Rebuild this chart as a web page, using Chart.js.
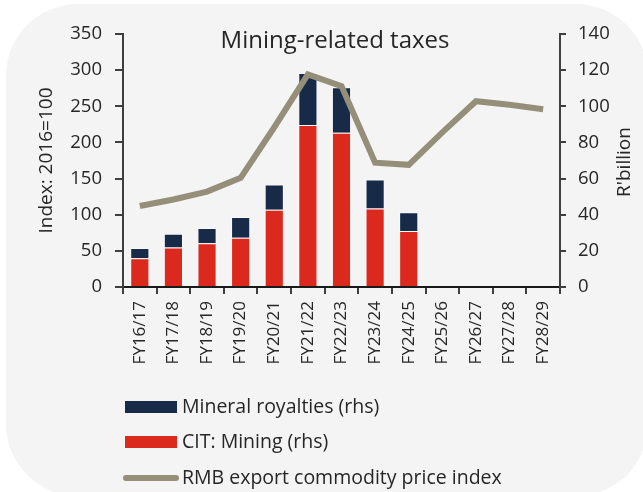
<!DOCTYPE html>
<html>
<head>
<meta charset="utf-8">
<script src="https://cdn.jsdelivr.net/npm/chart.js@4"></script>
<style>
  html, body { margin: 0; padding: 0; background: #fff; overflow: hidden; }
  #bg { position: absolute; left: 6px; top: 4px; width: 642px; height: 492px; background: #f4f4f4; border-radius: 72px; }
  #wrap { position: absolute; left: 0; top: 0; width: 643px; height: 492px; }
</style>
</head>
<body>
<div id="bg"></div>
<div id="wrap"><canvas id="getChart" width="643" height="492"></canvas></div>
<script>
var categories = ["FY16/17", "FY17/18", "FY18/19", "FY19/20", "FY20/21", "FY21/22", "FY22/23",
                  "FY23/24", "FY24/25", "FY25/26", "FY26/27", "FY27/28", "FY28/29"];
// R'billion (rhs)
var citMining = [15.9, 21.8, 24.2, 27.2, 42.8, 89.7, 85.3, 43.4, 31.0, null, null, null, null];
var royalties = [5.7, 7.6, 8.5, 11.6, 13.9, 28.7, 25.3, 16.1, 10.4, null, null, null, null];
// Index: 2016=100 (lhs)
var priceIndex = [112, 121, 132, 151, 221, 294, 278, 172, 169, 214, 257, 252, 246];
var leftTicks = [0, 50, 100, 150, 200, 250, 300, 350];
var rightTicks = [0, 20, 40, 60, 80, 100, 120, 140];

var font = "'Open Sans', 'Noto Sans', sans-serif";
var textColor = "#262626";
var axisColor = "#3f3f3f";

// title inside the plot, right axis title (reads upwards) + vertical legend at the bottom
var extras = {
    id: "extras",
    afterDraw: function (chart) {
        var c = chart.ctx;
        c.save();
        c.fillStyle = textColor;
        c.font = "24px " + font;
        c.textAlign = "center";
        c.textBaseline = "middle";
        c.fillText("Mining-related taxes", 335, 41);

        c.save();
        c.translate(625, 162);
        c.rotate(-Math.PI / 2);
        c.font = "19px " + font;
        c.fillText("R'billion", 0, 0);
        c.restore();

        var items = [
            { ds: chart.data.datasets[1], y: 407, kind: "box" },
            { ds: chart.data.datasets[0], y: 442, kind: "box" },
            { ds: chart.data.datasets[2], y: 478, kind: "line" }
        ];
        c.font = "19.5px " + font;
        c.textAlign = "left";
        items.forEach(function (it) {
            if (it.kind === "box") {
                c.fillStyle = it.ds.backgroundColor;
                c.fillRect(125, it.y - 6, 52, 12);
            } else {
                c.strokeStyle = it.ds.borderColor;
                c.lineWidth = 6;
                c.lineCap = "round";
                c.beginPath();
                c.moveTo(126, it.y);
                c.lineTo(176, it.y);
                c.stroke();
            }
            c.fillStyle = textColor;
            c.fillText(it.ds.label, 182, it.y);
        });
        c.restore();
    }
};

var ctx = document.getElementById("getChart");
var chart = new Chart(ctx, {
    type: "bar",
    data: {
        labels: categories,
        datasets: [{
                type: "bar",
                label: "CIT: Mining (rhs)",
                data: citMining,
                backgroundColor: "#dc291e",
                borderColor: "rgba(255,255,255,0.5)",
                borderWidth: 1,
                yAxisID: "y1",
                order: 1
            },
            {
                type: "bar",
                label: "Mineral royalties (rhs)",
                data: royalties,
                backgroundColor: "#172a48",
                borderColor: "rgba(255,255,255,0.5)",
                borderWidth: 1,
                yAxisID: "y1",
                order: 1
            },
            {
                type: "line",
                label: "RMB export commodity price index",
                data: priceIndex,
                borderColor: "#958e78",
                borderWidth: 6,
                pointRadius: 0,
                lineTension: 0,
                fill: false,
                yAxisID: "y",
                order: 0
            }
        ]
    },
    options: {
        responsive: false,
        animation: false,
        layout: { padding: { top: 34, left: 0, right: 0, bottom: 0 } },
        plugins: { legend: { display: false }, tooltip: { enabled: false } },
        datasets: { bar: { categoryPercentage: 1, barPercentage: 0.57 } },
        scales: {
            x: {
                stacked: true,
                afterFit: function (s) { s.height = 205; },
                border: { display: true, color: "#1a1a1a", width: 2 },
                grid: { display: true, drawOnChartArea: false, drawTicks: true, tickLength: 7, color: axisColor, lineWidth: 2 },
                ticks: { autoSkip: false, minRotation: 90, maxRotation: 90, padding: 7, color: textColor, font: { family: font, size: 17 } }
            },
            y: {
                position: "left",
                min: 0,
                max: 350,
                afterFit: function (s) { s.width = 123; },
                afterBuildTicks: function (s) { s.ticks = leftTicks.map(function (v) { return { value: v }; }); },
                border: { display: true, color: axisColor, width: 2 },
                grid: { display: true, drawOnChartArea: false, drawTicks: true, tickLength: 8, color: axisColor, lineWidth: 2 },
                ticks: { padding: 13, color: textColor, font: { family: font, size: 18.5 } },
                title: { display: true, text: "Index: 2016=100", color: textColor, padding: { top: 35, bottom: 0 }, font: { family: font, size: 19 } }
            },
            y1: {
                position: "right",
                stacked: true,
                min: 0,
                max: 140,
                afterFit: function (s) { s.width = 83; },
                afterBuildTicks: function (s) { s.ticks = rightTicks.map(function (v) { return { value: v }; }); },
                border: { display: true, color: axisColor, width: 2 },
                grid: { display: true, drawOnChartArea: false, drawTicks: true, tickLength: 6, color: axisColor, lineWidth: 2 },
                ticks: { padding: 12, color: textColor, font: { family: font, size: 18.5 } }
            }
        }
    },
    plugins: [extras]
});
</script>
</body>
</html>
